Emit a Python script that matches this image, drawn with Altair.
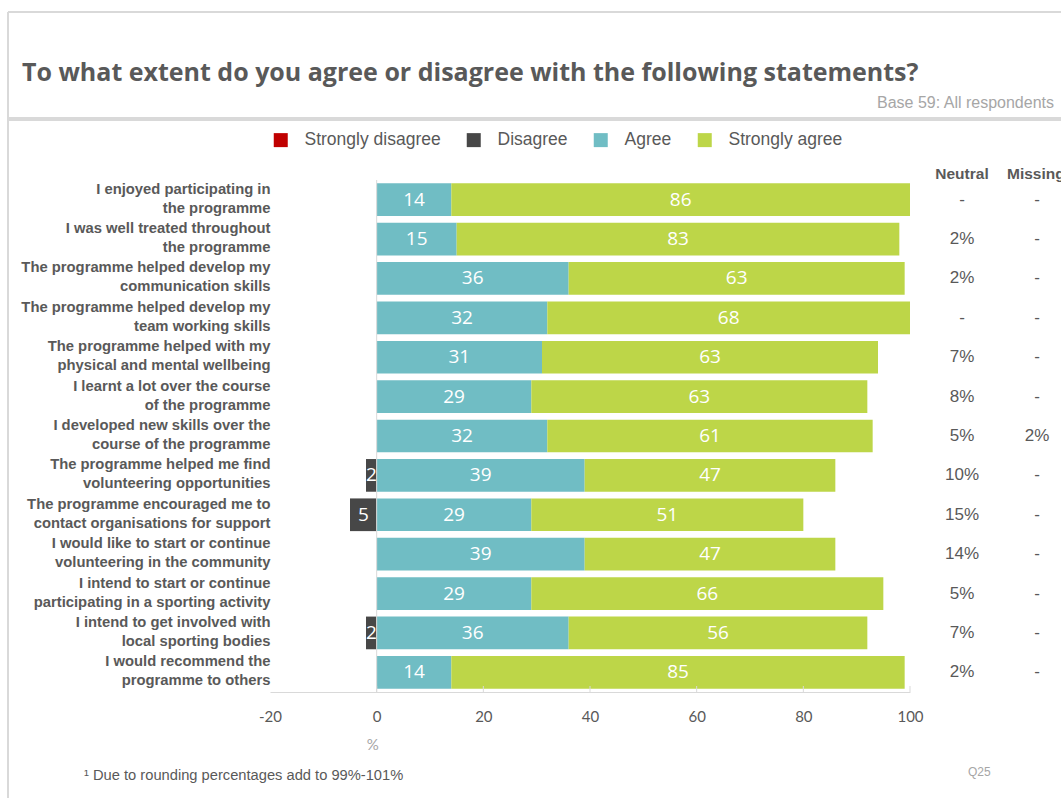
import altair as alt
import pandas as pd

statements = [
    "I enjoyed participating in|the programme",
    "I was well treated throughout|the programme",
    "The programme helped develop my|communication skills",
    "The programme helped develop my|team working skills",
    "The programme helped with my|physical and mental wellbeing",
    "I learnt a lot over the course|of the programme",
    "I developed new skills over the|course of the programme",
    "The programme helped me find|volunteering opportunities",
    "The programme encouraged me to|contact organisations for support",
    "I would like to start or continue|volunteering in the community",
    "I intend to start or continue|participating in a sporting activity",
    "I intend to get involved with|local sporting bodies",
    "I would recommend the|programme to others",
]
strongly_disagree = [0, 0, 0, 0, 0, 0, 0, 0, 0, 0, 0, 0, 0]
disagree = [0, 0, 0, 0, 0, 0, 0, 2, 5, 0, 0, 2, 0]
agree = [14, 15, 36, 32, 31, 29, 32, 39, 29, 39, 29, 36, 14]
strongly_agree = [86, 83, 63, 68, 63, 63, 61, 47, 51, 47, 66, 56, 85]
neutral = ["-", "2%", "2%", "-", "7%", "8%", "5%", "10%", "15%", "14%", "5%", "7%", "2%"]
missing = ["-", "-", "-", "-", "-", "-", "2%", "-", "-", "-", "-", "-", "-"]

categories = ["Strongly disagree", "Disagree", "Agree", "Strongly agree"]
colors = ["#C00000", "#474747", "#70BDC4", "#BDD648"]
x_ticks = [-20, 0, 20, 40, 60, 80, 100]

rows = []
for i, s in enumerate(statements):
    sd, d, a, sa = strongly_disagree[i], disagree[i], agree[i], strongly_agree[i]
    segs = [
        ("Strongly disagree", -(d + sd), -d, sd),
        ("Disagree", -d, 0, d),
        ("Agree", 0, a, a),
        ("Strongly agree", a, a + sa, sa),
    ]
    for cat, st, en, v in segs:
        if v > 0:
            rows.append({"statement": s, "category": cat, "start": st, "end": en,
                         "mid": (st + en) / 2, "value": v,
                         "neg": cat in ("Strongly disagree", "Disagree")})
df = pd.DataFrame(rows)
side = pd.DataFrame({"statement": statements, "neutral": neutral, "missing": missing})
one = pd.DataFrame({"a": [0]})
ticks_df = pd.DataFrame({"t": x_ticks[1:]})

GRAY = "#595959"

y_enc = alt.Y("statement:N", sort=statements,
              scale=alt.Scale(paddingInner=0.17, paddingOuter=0.085),
              axis=alt.Axis(title=None, labelExpr="split(datum.label, '|')",
                            labelFont="Liberation Sans", labelFontWeight="bold",
                            labelFontSize=14.8, labelColor=GRAY, labelLineHeight=19,
                            labelOffset=-10, labelPadding=0, ticks=False,
                            domain=False, labelLimit=400))
x_scale = alt.Scale(domain=[-20, 100], nice=False, zero=False)
x_axis = alt.Axis(values=x_ticks, title=None, grid=False, ticks=False,
                  domainColor="#D9D9D9", labelFont="Lato", labelFontSize=15,
                  labelColor=GRAY, labelPadding=17, labelFlush=False,
                  labelExpr="'' + datum.value")

color_enc = alt.Color("category:N",
                      scale=alt.Scale(domain=categories, range=colors),
                      legend=alt.Legend(orient="none", direction="horizontal",
                                        legendX=2, legendY=-49, title=None,
                                        symbolType="square", symbolSize=196,
                                        symbolStrokeWidth=0, symbolOpacity=1,
                                        labelFont="Liberation Sans", labelFontSize=17.5,
                                        labelColor=GRAY, labelOffset=15,
                                        columnPadding=24))

base = alt.Chart(df)
neg_bars = base.transform_filter("datum.neg").mark_bar(opacity=1).encode(
    x=alt.X("start:Q", scale=x_scale, axis=x_axis), x2="end:Q", y=y_enc, color=color_enc)
neg_text = base.transform_filter("datum.neg").mark_text(
    color="white", font="Open Sans", fontSize=19).encode(
    x="mid:Q", y=alt.Y("statement:N", sort=statements), text="value:Q")
pos_bars = base.transform_filter("!datum.neg").mark_bar(opacity=1).encode(
    x="start:Q", x2="end:Q", y=alt.Y("statement:N", sort=statements), color=color_enc)
pos_text = base.transform_filter("!datum.neg").mark_text(
    color="white", font="Open Sans", fontSize=19).encode(
    x="mid:Q", y=alt.Y("statement:N", sort=statements), text="value:Q")

zero_line = alt.Chart(one).mark_rule(color="#D9D9D9", strokeWidth=1).encode(
    x=alt.datum(0), y=alt.value(0), y2=alt.value(512))
x_tick_marks = alt.Chart(ticks_df).mark_rule(color="#D9D9D9", strokeWidth=1).encode(
    x="t:Q", y=alt.value(506), y2=alt.value(512))

neutral_text = alt.Chart(side).mark_text(font="Liberation Sans", fontSize=17, color=GRAY).encode(
    x=alt.value(692), y=alt.Y("statement:N", sort=statements), text="neutral:N")
missing_text = alt.Chart(side).mark_text(font="Liberation Sans", fontSize=17, color=GRAY).encode(
    x=alt.value(767), y=alt.Y("statement:N", sort=statements), text="missing:N")


def label(txt, x, y, size, color=GRAY, weight="normal", font="Liberation Sans", align="left"):
    return alt.Chart(one).mark_text(text=txt, fontSize=size, color=color, fontWeight=weight,
                                    font=font, align=align, baseline="middle").encode(
        x=alt.value(x), y=alt.value(y))


headers = (label("Neutral", 692, -6, 15.5, weight="bold", align="center")
           + label("Missing", 737, -6, 15.5, weight="bold"))
title = label("To what extent do you agree or disagree with the following statements?",
              -248, -107, 25, weight="bold", font="Open Sans")
subtitle = label("Base 59: All respondents", 607, -77, 16, color="#A6A6A6")
footnote = label("\u00b9 Due to rounding percentages add to 99%-101%", -186, 596, 14.7)
q25 = label("Q25", 698, 592, 12, color="#A6A6A6")
pct = alt.Chart(one).mark_text(text="%", fontSize=15, color="#A6A6A6", font="Lato",
                               dx=-4).encode(x=alt.datum(0), y=alt.value(565))

frame_left = alt.Chart(one).mark_rule(color="#D9D9D9", strokeWidth=2).encode(
    x=alt.value(-262), y=alt.value(-168), y2=alt.value(620))
frame_top = alt.Chart(one).mark_rule(color="#D9D9D9", strokeWidth=2).encode(
    x=alt.value(-262), x2=alt.value(800), y=alt.value(-168))
separator = alt.Chart(one).mark_rule(color="#D9D9D9", strokeWidth=4).encode(
    x=alt.value(-262), x2=alt.value(800), y=alt.value(-61))

chart = alt.layer(
    neg_bars, neg_text, pos_bars, pos_text, zero_line, x_tick_marks,
    neutral_text, missing_text, headers, title, subtitle, footnote, q25, pct,
    frame_left, frame_top, separator,
).properties(
    width=640, height=512,
    padding={"left": 270, "top": 180, "right": 151, "bottom": 106},
    autosize="none",
    background="white",
).configure_view(stroke=None)

chart.save("out.html", embed_options={"renderer": "svg", "actions": False})
